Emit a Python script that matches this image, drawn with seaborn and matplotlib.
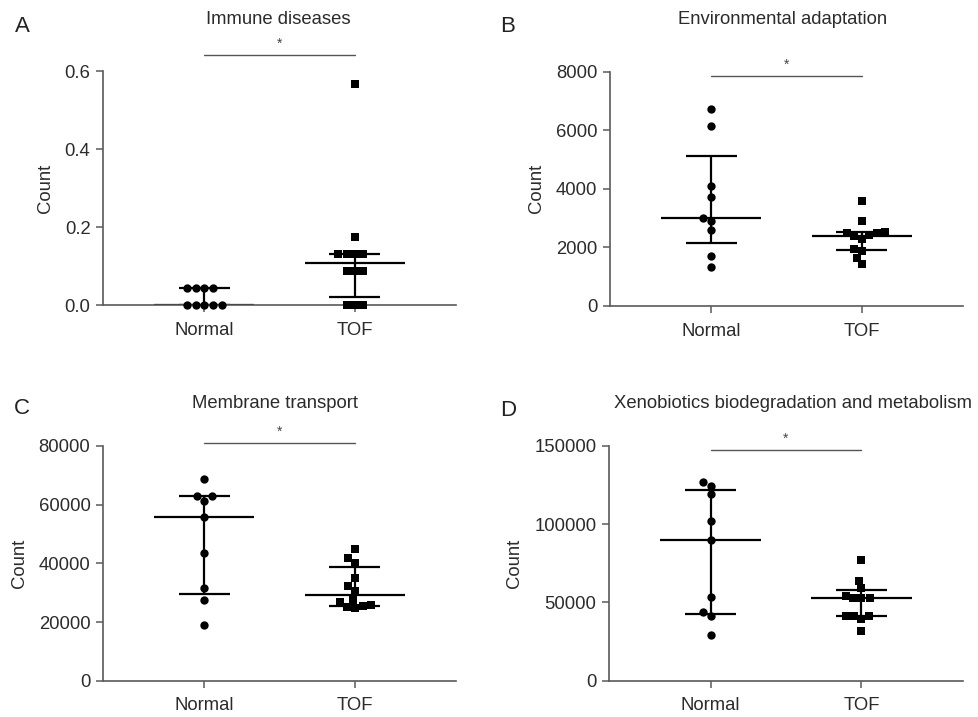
import numpy as np
import pandas as pd
import matplotlib
matplotlib.use("Agg")
import matplotlib.pyplot as plt
import seaborn as sns

sns.set_style("ticks")
plt.rcParams['font.family'] = ['Liberation Sans', 'DejaVu Sans']

groups = ["Normal", "TOF"]

# Panel A: Immune diseases
immune_normal = [0.0, 0.0, 0.0, 0.0, 0.0, 0.043, 0.043, 0.043, 0.043]
immune_tof = [0.0, 0.0, 0.0, 0.087, 0.087, 0.087, 0.13, 0.13, 0.13, 0.13, 0.174, 0.566]

# Panel B: Environmental adaptation
env_normal = [1343, 1718, 2594, 2902, 2993, 3710, 4108, 6133, 6725]
env_tof = [1430, 1640, 1880, 1960, 2280, 2390, 2420, 2480, 2500, 2520, 2900, 3600]

# Panel C: Membrane transport
mem_normal = [18977, 27500, 31705, 43636, 55682, 61364, 62955, 62955, 68636]
mem_tof = [24886, 25227, 25568, 25795, 26705, 27500, 30682, 32273, 34886, 40227, 41932, 44886]

# Panel D: Xenobiotics biodegradation and metabolism
xeno_normal = [29362, 41277, 43617, 53191, 89787, 102128, 118936, 124468, 126596]
xeno_tof = [31915, 39149, 41277, 41277, 41277, 52553, 52553, 52553, 54255, 59149, 63830, 77021]

titles = ["Immune diseases", "Environmental adaptation", "Membrane transport",
          "Xenobiotics biodegradation and metabolism"]
letters = ["A", "B", "C", "D"]
yticks = [[0.0, 0.2, 0.4, 0.6], [0, 2000, 4000, 6000, 8000],
          [0, 20000, 40000, 60000, 80000], [0, 50000, 100000, 150000]]
ytick_labels = [["0.0", "0.2", "0.4", "0.6"], ["0", "2000", "4000", "6000", "8000"],
                ["0", "20000", "40000", "60000", "80000"], ["0", "50000", "100000", "150000"]]
sig_label = "*"
sig_levels = [0.641, 7853, 81000, 147300]

datasets = [(immune_normal, immune_tof), (env_normal, env_tof),
            (mem_normal, mem_tof), (xeno_normal, xeno_tof)]

W, H = 979, 717
fig = plt.figure(figsize=(W / 100, H / 100), dpi=100)

# pixel boxes: left, right, top, bottom
boxes = [(103, 456, 71, 305), (610, 963, 71.7, 306),
         (103, 456, 446, 680.7), (609, 963, 445.7, 680.7)]
title_pos = [(278, 20), (783, 20), (275, 403), (793, 403)]
letter_pos = [(22, 26), (508, 26), (22, 409), (508, 410)]

axis_col = "#5a5a5a"
text_col = "#2b2b2b"
fs = 13.3

for i, ((n, t), (l, r, tp, bt)) in enumerate(zip(datasets, boxes)):
    ax = fig.add_axes([l / W, (H - bt) / H, (r - l) / W, (bt - tp) / H])
    df = pd.DataFrame({"group": ["Normal"] * len(n) + ["TOF"] * len(t),
                       "value": list(n) + list(t)})
    sns.swarmplot(data=df[df.group == "Normal"], x="group", y="value", order=groups,
                  marker="o", color="black", size=6.0, ax=ax)
    sns.swarmplot(data=df[df.group == "TOF"], x="group", y="value", order=groups,
                  marker="s", color="black", size=5.6, ax=ax)
    for c in ax.collections:
        c.set_clip_on(False)
        c.set_linewidth(0)
        c.set_zorder(6)

    ymax = yticks[i][-1]
    ax.set_ylim(0, ymax)
    ax.set_xlim(-0.673, 1.673)

    # median with interquartile range
    for k, vals in enumerate([n, t]):
        q1, med, q3 = np.percentile(vals, [25, 50, 75], method="weibull")
        ax.hlines(med, k - 0.333, k + 0.333, color="black", lw=1.6, zorder=4)
        ax.hlines([q1, q3], k - 0.17, k + 0.17, color="black", lw=1.6, zorder=4)
        ax.vlines(k, q1, q3, color="black", lw=1.6, zorder=4)

    # significance bar
    ax.plot([0, 1], [sig_levels[i], sig_levels[i]], color="#555555", lw=1.0,
            clip_on=False, transform=ax.transData)
    ax.annotate(sig_label, xy=(0.5, sig_levels[i]), xytext=(0, 3), textcoords="offset points",
                ha="center", va="bottom", fontsize=10, color="#444444",
                annotation_clip=False)

    ax.set_yticks(yticks[i])
    ax.set_yticklabels(ytick_labels[i])
    ax.set_xticks([0, 1])
    ax.set_xticklabels(groups)
    ax.set_xlabel("")
    ax.set_ylabel("Count", fontsize=fs, color=text_col, labelpad=8)
    ax.tick_params(axis="both", labelsize=fs, colors=axis_col, labelcolor=text_col,
                   length=5, width=1.1, pad=4)
    ax.tick_params(axis="x", pad=7)
    for s in ["top", "right"]:
        ax.spines[s].set_visible(False)
    for s in ["left", "bottom"]:
        ax.spines[s].set_color(axis_col)
        ax.spines[s].set_linewidth(1.2)
        ax.spines[s].set_zorder(5)

    fig.text(title_pos[i][0] / W, 1 - title_pos[i][1] / H, titles[i], ha="center",
             va="center", fontsize=fs, color=text_col)
    fig.text(letter_pos[i][0] / W, 1 - letter_pos[i][1] / H, letters[i], ha="center",
             va="center", fontsize=16, color="#222222")

fig.savefig("out.png", dpi=100, facecolor="white")
